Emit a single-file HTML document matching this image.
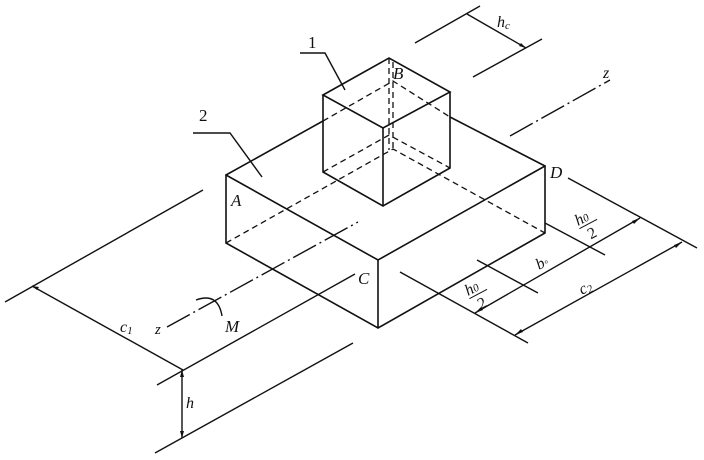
<!DOCTYPE html>
<html><head><meta charset="utf-8"><style>
html,body{margin:0;padding:0;background:#fff;}
svg{display:block;}
text{font-family:"Liberation Serif",serif;font-style:italic;fill:#111;}
</style></head><body>
<svg width="704" height="460" viewBox="0 0 704 460" xmlns="http://www.w3.org/2000/svg">
<g stroke="#111" stroke-width="1.6" fill="none" stroke-linecap="round">
<path d="M226,175 L378,260 L545,166"/>
<path d="M226,175 L226,243 L378,328 L545,233 L545,166"/>
<path d="M378,260 L378,328"/>
<path d="M226,175 L323,121"/>
<path d="M450,117 L545,166"/>
<path d="M323,95 L389,58 L450,92 L383,128 Z"/>
<path d="M323,95 L323,172 L383,206 L450,168 L450,92"/>
<path d="M383,128 L383,206"/>
</g>
<g stroke="#111" stroke-width="1.3" fill="none" stroke-dasharray="6,4">
<path d="M226,243 L393,149 L545,233"/>
<path d="M323,121 L393,81 L450,117"/>
<path d="M323,172 L389,135 L450,168"/>
<path d="M389,58 L389,150"/>
<path d="M393,62 L393,150"/>
</g>
<g stroke="#111" stroke-width="1.4" fill="none">
<path d="M167,327 L358,222" stroke-dasharray="26,4,2,4"/>
<path d="M510,136 L610,80" stroke-dasharray="26,4,2,4"/>
<path d="M5,302 L203,190"/>
<path d="M32,286 L183,370"/>
<path d="M157,385 L355,274"/>
<path d="M182,370 L182,438"/>
<path d="M155,453 L353,343"/>
<path d="M196,300 Q218,292 222,316"/>
<path d="M415,43 L480,6"/>
<path d="M467,14 L526,48"/>
<path d="M473,77 L542,39"/>
<path d="M568,178 L697,248"/>
<path d="M545,223 L605,255"/>
<path d="M477,260 L538,293"/>
<path d="M400,272 L528,343"/>
<path d="M475,313 L640,218"/>
<path d="M515,335 L682,242"/>
<path d="M300,53 L325,53 L345,90"/>
<path d="M193,133 L230,133 L262,177"/>
</g>
<g fill="#111">
<path d="M32,286 l7,1 l-2,3 z"/>
<path d="M182,370 l-2,7 l4,0 z"/>
<path d="M182,438 l-2,-7 l4,0 z"/>
<path d="M475,313 l6,-6 l2,3 z"/>
<path d="M640,218 l-6,6 l-2,-3 z"/>
<path d="M515,335 l6,-6 l2,3 z"/>
<path d="M682,242 l-6,6 l-2,-3 z"/>
<path d="M526,48 l-7,-2 l2,-3 z"/>
</g>
<g font-size="17">
<text x="308" y="48" style="font-style:normal">1</text>
<text x="199" y="121" style="font-style:normal">2</text>
<text x="231" y="206">A</text>
<text x="393" y="79">B</text>
<text x="358" y="284">C</text>
<text x="550" y="178">D</text>
<text x="225" y="332">M</text>
<text x="186" y="408" font-size="16">h</text>
<text x="120" y="332" font-size="16">c<tspan font-size="11" dy="2">1</tspan></text>
<text x="155" y="334" font-size="15">z</text>
<text x="603" y="78" font-size="16">z</text>
<text x="497" y="27" font-size="16">h<tspan font-size="11" dy="2">c</tspan></text>
<text x="539" y="270" font-size="16" transform="rotate(-28 539 270)">b<tspan font-size="12">◦</tspan></text>
<text x="582" y="295" font-size="16" transform="rotate(-28 582 295)">c<tspan font-size="11" dy="2">2</tspan></text>
<g transform="translate(468,296) rotate(-28)">
<text x="0" y="0" font-size="16">h<tspan font-size="11">0</tspan></text>
<path d="M0,3 L20,3" stroke="#111" stroke-width="1"/>
<text x="5" y="18" font-size="16" style="font-style:normal">2</text>
</g>
<g transform="translate(578,226) rotate(-28)">
<text x="0" y="0" font-size="16">h<tspan font-size="11">0</tspan></text>
<path d="M0,3 L20,3" stroke="#111" stroke-width="1"/>
<text x="5" y="18" font-size="16" style="font-style:normal">2</text>
</g>
</g>
</svg>
</body></html>
